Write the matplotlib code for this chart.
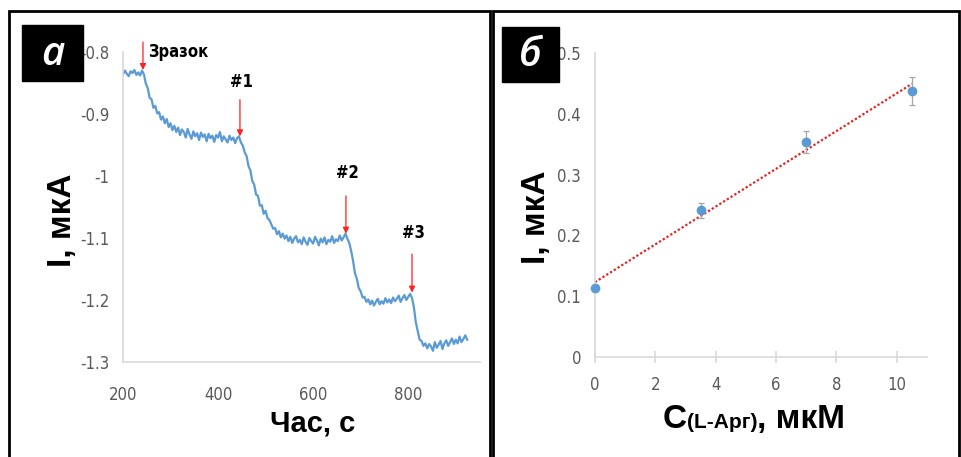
import matplotlib
matplotlib.use('Agg')
import matplotlib.pyplot as plt
from matplotlib.patches import Rectangle
import numpy as np

plt.rcParams['axes.unicode_minus'] = False

# --- panel a: chronoamperogram (time step 4 s, from 200 s) ---
time_s = np.arange(200, 928, 4)
current_uA = [
    -0.836, -0.830, -0.835, -0.839, -0.831, -0.834, -0.829, -0.837, -0.833, -0.838,  # 200
    -0.830, -0.836, -0.851, -0.858, -0.874, -0.876, -0.890, -0.887, -0.899, -0.897,  # 240
    -0.909, -0.904, -0.915, -0.908, -0.921, -0.915, -0.926, -0.919, -0.929, -0.922,  # 280
    -0.934, -0.925, -0.929, -0.938, -0.924, -0.933, -0.940, -0.928, -0.936, -0.931,  # 320
    -0.942, -0.930, -0.937, -0.933, -0.944, -0.932, -0.939, -0.935, -0.945, -0.934,  # 360
    -0.938, -0.929, -0.944, -0.936, -0.941, -0.946, -0.935, -0.942, -0.938, -0.947,  # 400
    -0.939, -0.936, -0.946, -0.951, -0.962, -0.968, -0.984, -0.991, -1.008, -1.014,  # 440
    -1.030, -1.032, -1.048, -1.047, -1.061, -1.056, -1.068, -1.071, -1.078, -1.085,  # 480
    -1.084, -1.094, -1.089, -1.099, -1.093, -1.101, -1.096, -1.105, -1.098, -1.108,  # 520
    -1.101, -1.097, -1.107, -1.103, -1.110, -1.099, -1.106, -1.111, -1.100, -1.105,  # 560
    -1.109, -1.098, -1.104, -1.112, -1.101, -1.107, -1.099, -1.110, -1.103, -1.106,  # 600
    -1.097, -1.108, -1.102, -1.105, -1.096, -1.104, -1.099, -1.093, -1.101, -1.108,  # 640
    -1.121, -1.137, -1.157, -1.166, -1.181, -1.186, -1.196, -1.195, -1.203, -1.199,  # 680
    -1.207, -1.201, -1.209, -1.203, -1.198, -1.207, -1.202, -1.206, -1.197, -1.204,  # 720
    -1.199, -1.205, -1.196, -1.202, -1.198, -1.193, -1.203, -1.197, -1.192, -1.200,  # 760
    -1.195, -1.190, -1.197, -1.212, -1.236, -1.250, -1.264, -1.266, -1.274, -1.270,  # 800
    -1.278, -1.271, -1.275, -1.282, -1.268, -1.277, -1.272, -1.266, -1.279, -1.270,  # 840
    -1.265, -1.274, -1.268, -1.262, -1.271, -1.264, -1.270, -1.259, -1.268, -1.263,  # 880
    -1.257, -1.264,                                                                  # 920
]

# injection marks: label, time, arrow start, arrow end, label y
inj_labels = ['Зразок', '#1', '#2', '#3']
inj_time = [242, 446, 669, 808]
inj_from = [-0.784, -0.877, -1.032, -1.126]
inj_to = [-0.829, -0.936, -1.093, -1.188]
inj_text_y = [-0.800, -0.848, -0.995, -1.092]

a_xticks = [200, 400, 600, 800]
a_yticks = [-0.8, -0.9, -1.0, -1.1, -1.2, -1.3]
a_yticklabels = ['-0.8', '-0.9', '-1', '-1.1', '-1.2', '-1.3']

# --- panel б: calibration ---
conc_uM = [0, 3.5, 7, 10.5]
resp_uA = [0.113, 0.241, 0.353, 0.438]
resp_err = [0.004, 0.012, 0.018, 0.023]
b_xticks = [0, 2, 4, 6, 8, 10]
b_yticks = [0, 0.1, 0.2, 0.3, 0.4, 0.5]
b_yticklabels = ['0', '0.1', '0.2', '0.3', '0.4', '0.5']

W, H = 961, 457
blue = '#5B9BD5'
grid_c = '#D9D9D9'
tick_c = '#595959'
bold_font = ['Liberation Sans', 'DejaVu Sans']


def fx(px):
    return px / W


def fy(py):
    return 1 - py / H


def narrow_labels(ax):
    for lab in ax.get_xticklabels() + ax.get_yticklabels():
        lab.set_family('DejaVu Sans')
        lab.set_fontstretch('condensed')


fig = plt.figure(figsize=(W / 100, H / 100), dpi=100)

# panel frames
fig.patches.append(Rectangle((fx(9), fy(470)), fx(490) - fx(9), fy(11) - fy(470),
                             transform=fig.transFigure, fill=False, lw=2, ec='black'))
fig.patches.append(Rectangle((fx(493), fy(470)), fx(959) - fx(493), fy(11) - fy(470),
                             transform=fig.transFigure, fill=False, lw=2, ec='black'))

# ---------------- panel a ----------------
ax1 = fig.add_axes([fx(123), fy(362), fx(480) - fx(123), fy(52) - fy(362)])
ax1.plot(time_s, current_uA, color=blue, lw=1.6)
ax1.set_xlim(200, 951)
ax1.set_ylim(-1.3, -0.8)
ax1.set_xticks(a_xticks)
ax1.set_xticklabels([str(v) for v in a_xticks])
ax1.set_yticks(a_yticks)
ax1.set_yticklabels(a_yticklabels)
for s in ['top', 'right']:
    ax1.spines[s].set_visible(False)
for s in ['left', 'bottom']:
    ax1.spines[s].set_color(grid_c)
    ax1.spines[s].set_linewidth(1.2)
ax1.tick_params(axis='both', length=0, labelcolor=tick_c, labelsize=12)
ax1.tick_params(axis='x', pad=17)
ax1.tick_params(axis='y', pad=10)
narrow_labels(ax1)

for lab, t, y0, y1, ty in zip(inj_labels, inj_time, inj_from, inj_to, inj_text_y):
    ax1.annotate('', xy=(t, y1), xytext=(t, y0), annotation_clip=False,
                 arrowprops=dict(arrowstyle='-|>', color='#FF2020', lw=0.9,
                                 mutation_scale=9, shrinkA=0, shrinkB=0))
    kw = dict(va='center', fontsize=12, fontweight='bold', family='DejaVu Sans',
              fontstretch='condensed', clip_on=False)
    if lab == 'Зразок':
        ax1.text(t + 10, ty, lab, ha='left', **kw)
    else:
        ax1.text(t + 4, ty, lab, ha='center', **kw)

fig.text(fx(63), fy(220), 'I, мкА', rotation=90, ha='center', va='center',
         fontsize=24, fontweight='bold', family=bold_font)
fig.text(fx(313), fy(424), 'Час, с', ha='center', va='center',
         fontsize=21, fontweight='bold', family=bold_font)

# ---------------- panel б ----------------
ax2 = fig.add_axes([fx(595), fy(357), fx(927) - fx(595), fy(53) - fy(357)])
coef = np.polyfit(conc_uM, resp_uA, 1)
xfit = np.array([conc_uM[0], conc_uM[-1]])
ax2.plot(xfit, np.polyval(coef, xfit), color='#E8211E', lw=1.6, ls=(0, (1, 1)))
ax2.errorbar(conc_uM, resp_uA, yerr=resp_err, fmt='o', color=blue, ms=6,
             ecolor='#A6A6A6', elinewidth=0.9, capsize=2.5, capthick=0.9,
             clip_on=False, zorder=3)
ax2.set_xlim(0, 11)
ax2.set_ylim(0, 0.5)
ax2.set_xticks(b_xticks)
ax2.set_xticklabels([str(v) for v in b_xticks])
ax2.set_yticks(b_yticks)
ax2.set_yticklabels(b_yticklabels)
for s in ['top', 'right']:
    ax2.spines[s].set_visible(False)
for s in ['left', 'bottom']:
    ax2.spines[s].set_color(grid_c)
    ax2.spines[s].set_linewidth(1.2)
ax2.tick_params(axis='y', length=0, labelcolor=tick_c, labelsize=12, pad=10)
ax2.tick_params(axis='x', direction='inout', length=8, width=1.2, color=grid_c,
                labelcolor=tick_c, labelsize=12, pad=10)
narrow_labels(ax2)

fig.text(fx(537), fy(217), 'I, мкА', rotation=90, ha='center', va='center',
         fontsize=24, fontweight='bold', family=bold_font)

# composite x label: big "C", small "(L-Арг)", big ", мкМ"
renderer = fig.canvas.get_renderer()
x_cur = fx(663)
base_y = fy(428)
parts = [('C', 24), ('(L-Арг)', 15), (', мкМ', 24)]
for txt, size in parts:
    t = fig.text(x_cur, base_y, txt, ha='left', va='baseline', fontsize=size,
                 fontweight='bold', family=bold_font)
    bb = t.get_window_extent(renderer=renderer)
    x_cur += bb.width / W

# panel letters
for (x0, y0, x1, y1), letter in [((22, 25, 83, 81), 'а'), ((502, 27, 559, 82), 'б')]:
    fig.patches.append(Rectangle((fx(x0), fy(y1)), fx(x1) - fx(x0), fy(y0) - fy(y1),
                                 transform=fig.transFigure, color='black'))
    fig.text(fx((x0 + x1) / 2), fy((y0 + y1) / 2 + 2), letter, ha='center', va='center',
             color='white', fontsize=29, style='italic', fontweight='semibold',
             family=['Open Sans', 'DejaVu Sans'])

fig.savefig('out.png', dpi=100)
